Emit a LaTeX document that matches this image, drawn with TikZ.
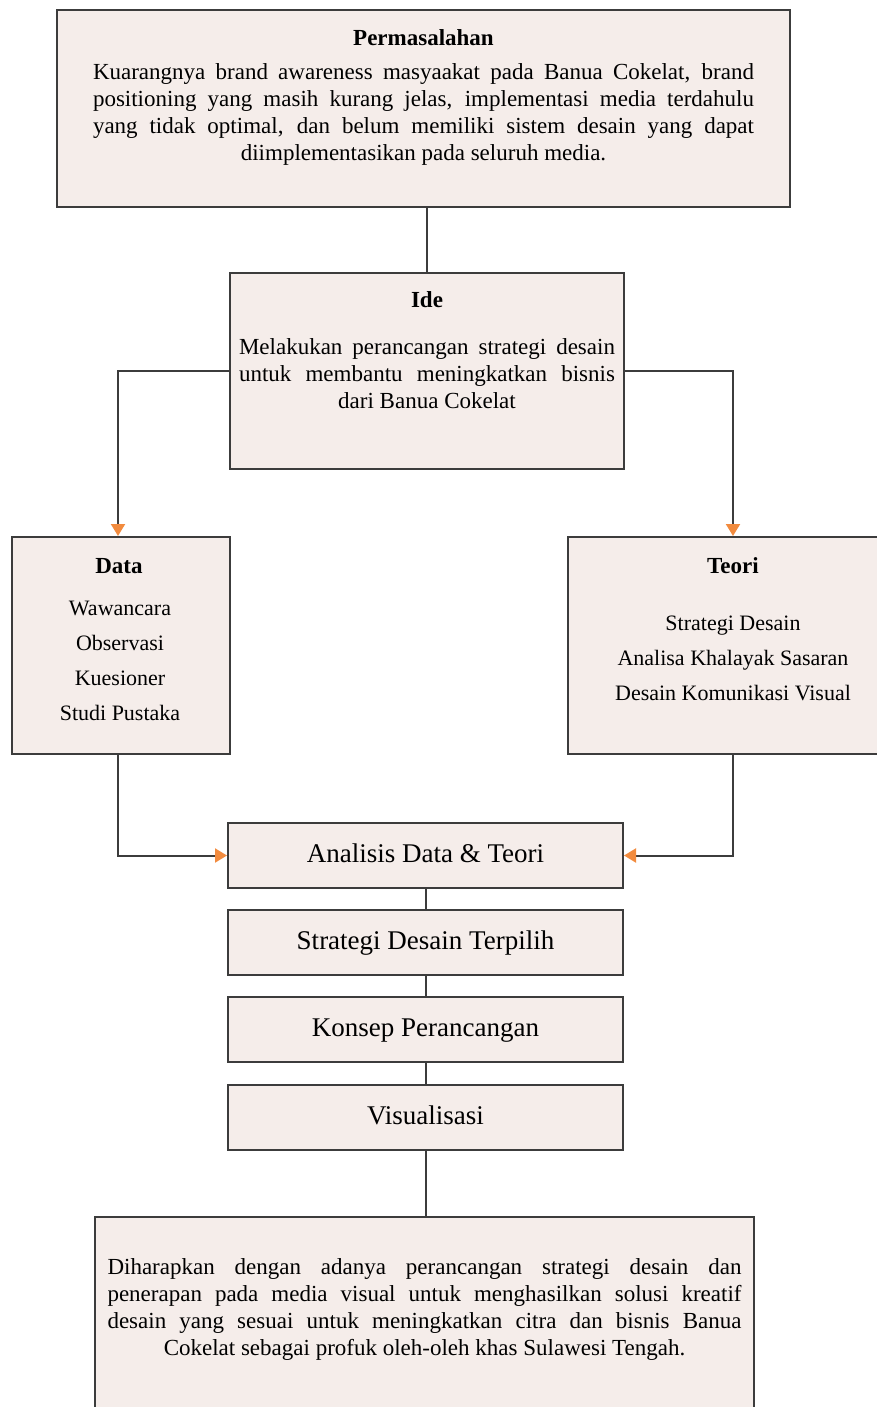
\documentclass[tikz,border=0pt]{standalone}
\usepackage{fontspec}
\setmainfont{Liberation Serif}
\usepackage{xcolor}
\usetikzlibrary{arrows.meta}

\definecolor{boxfill}{HTML}{F5EDEA}
\definecolor{boxline}{HTML}{3C3C3C}
\definecolor{tiporange}{HTML}{F28B3E}

% justified paragraph of a given width, last line centred
\newcommand{\centerlast}[2]{\parbox{#1}{\parindent=0pt\leftskip=0pt plus .5fil\rightskip=0pt plus -.5fil\parfillskip=0pt plus 1fil\hyphenpenalty=10000\exhyphenpenalty=10000\tolerance=9999 #2\par}}

\begin{document}
\begin{tikzpicture}[x=1pt, y=-1pt, line width=2pt,
  box/.style={draw=boxline, fill=boxfill, inner sep=0pt},
  link/.style={draw=boxline},
  arr/.style={draw=boxline, -{Triangle[length=12pt, width=14pt, color=tiporange]}},
  title/.style={font=\fontsize{23}{27}\selectfont\bfseries, inner sep=0pt},
  body/.style={font=\fontsize{23}{27}\selectfont, inner sep=0pt},
  list/.style={font=\fontsize{22}{35}\selectfont, align=center, inner sep=0pt},
  stepbox/.style={box, minimum width=395pt, minimum height=65pt, text height=19pt, text depth=6pt, font=\fontsize{27}{30}\selectfont}]

% page and clipping
\fill[white] (0,0) rectangle (877,1407);
\useasboundingbox (0,0) rectangle (877,1407);
\clip (0,0) rectangle (877,1407);

% boxes
\node[box, minimum width=733pt, minimum height=197pt] (prob) at (423.5,108.5) {};
\node[box, minimum width=394pt, minimum height=196pt] (ide) at (427,371) {};
\node[box, minimum width=218pt, minimum height=217pt] (data) at (121,645.5) {};
\node[box, minimum width=330pt, minimum height=217pt] (teori) at (733,645.5) {};
\node[stepbox] (analisis) at (425.5,855.5) {Analisis Data \& Teori};
\node[stepbox] (strategi) at (425.5,942.5) {Strategi Desain Terpilih};
\node[stepbox] (konsep) at (425.5,1029.5) {Konsep Perancangan};
\node[stepbox] (visual) at (425.5,1117.5) {Visualisasi};
\node[box, minimum width=659pt, minimum height=230pt] (hasil) at (424.5,1332) {};

% texts in the boxes
\node[title] (probtitle) at (423.5,38) {Permasalahan};
\node[body] (probtext) at (423.5,114) {\centerlast{661pt}{Kuarangnya brand awareness masyaakat pada Banua Cokelat, brand positioning yang masih kurang jelas, implementasi media terdahulu yang tidak optimal, dan belum memiliki sistem desain yang dapat diimplementasikan pada seluruh media.}};

\node[title] (idetitle) at (427,300) {Ide};
\node[body] (idetext) at (427,374) {\centerlast{376pt}{Melakukan perancangan strategi desain untuk membantu meningkatkan bisnis dari Banua Cokelat}};

\node[title] (datatitle) at (119,566) {Data};
\node[list] (datalist) at (120,660.5) {Wawancara\\Observasi\\Kuesioner\\Studi Pustaka};

\node[title] (teorititle) at (733,566) {Teori};
\node[list] (teorilist) at (733,658) {Strategi Desain\\Analisa Khalayak Sasaran\\Desain Komunikasi Visual};

\node[body] (hasiltext) at (424.5,1309) {\centerlast{634pt}{Diharapkan dengan adanya perancangan strategi desain dan penerapan pada media visual untuk menghasilkan solusi kreatif desain yang sesuai untuk meningkatkan citra dan bisnis Banua Cokelat sebagai profuk oleh-oleh khas Sulawesi Tengah.}};

% connectors
\draw[link] (prob.south -| ide.north) -- (ide.north);
\draw[arr] (ide.west) -| ([xshift=-3pt]data.north);
\draw[arr] (ide.east) -| (teori.north);
\draw[arr] ([xshift=-3pt]data.south) |- (analisis.west);
\draw[arr] (teori.south) |- (analisis.east);
\draw[link] (analisis) -- (strategi);
\draw[link] (strategi) -- (konsep);
\draw[link] (konsep) -- (visual);
\draw[link] (visual.south) -- (visual.south |- hasil.north);

\end{tikzpicture}
\end{document}
